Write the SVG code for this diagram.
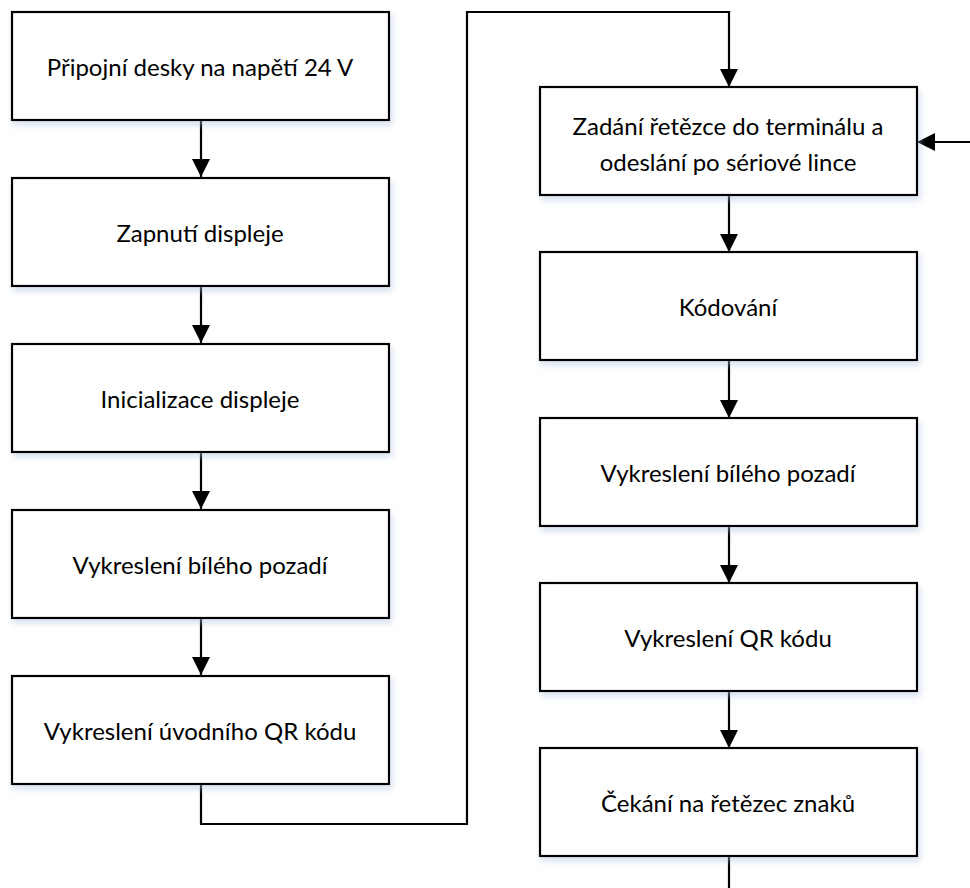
<svg xmlns="http://www.w3.org/2000/svg" width="970" height="888" viewBox="0 0 970 888">
<defs>
<marker id="ah" markerWidth="18" markerHeight="18" refX="18" refY="9" orient="auto" markerUnits="userSpaceOnUse">
<path d="M0,0 L18,9 L0,18 Z" fill="#000"/>
</marker>
<filter id="sh" x="-5%" y="-10%" width="115%" height="130%">
<feDropShadow dx="2" dy="4" stdDeviation="3" flood-color="#a9c0de" flood-opacity="0.5"/>
</filter>
</defs>
<style>
.box{fill:#fff;stroke:#000;stroke-width:2.2;filter:url(#sh)}
.t{font-family:Lato,"Liberation Sans",sans-serif;font-size:24px;fill:#000;text-anchor:middle;dominant-baseline:central}
.c{fill:none;stroke:#000;stroke-width:2.2;marker-end:url(#ah)}
.n{fill:none;stroke:#000;stroke-width:2.2}
</style>
<rect width="970" height="888" fill="#fff"/>
<g id="connectors">
<path class="c" d="M201,120 V177"/>
<path class="c" d="M201,286 V343"/>
<path class="c" d="M201,452 V509"/>
<path class="c" d="M201,618 V675"/>
<path class="c" d="M201,784 V824 H467 V12 H729 V87"/>
<path class="c" d="M729,195 V252"/>
<path class="c" d="M729,360 V418"/>
<path class="c" d="M729,526 V583"/>
<path class="c" d="M729,691 V748"/>
<path class="n" d="M729,856 V888"/>
<path class="c" d="M970,142 H917"/>
</g>
<g id="n1"><rect class="box" x="12" y="12" width="377" height="108"/><text class="t" x="200" y="66">Připojní desky na napětí 24 V</text></g>
<g id="n2"><rect class="box" x="12" y="178" width="377" height="108"/><text class="t" x="200" y="232">Zapnutí displeje</text></g>
<g id="n3"><rect class="box" x="12" y="344" width="377" height="108"/><text class="t" x="200" y="398">Inicializace displeje</text></g>
<g id="n4"><rect class="box" x="12" y="510" width="377" height="108"/><text class="t" x="200" y="564">Vykreslení bílého pozadí</text></g>
<g id="n5"><rect class="box" x="12" y="676" width="377" height="108"/><text class="t" x="200" y="730">Vykreslení úvodního QR kódu</text></g>
<g id="n6"><rect class="box" x="540" y="87" width="377" height="108"/><text class="t" x="728" y="125">Zadání řetězce do terminálu a</text><text class="t" x="728" y="161">odeslání po sériové lince</text></g>
<g id="n7"><rect class="box" x="540" y="252" width="377" height="108"/><text class="t" x="728" y="306">Kódování</text></g>
<g id="n8"><rect class="box" x="540" y="418" width="377" height="108"/><text class="t" x="728" y="472">Vykreslení bílého pozadí</text></g>
<g id="n9"><rect class="box" x="540" y="583" width="377" height="108"/><text class="t" x="728" y="637">Vykreslení QR kódu</text></g>
<g id="n10"><rect class="box" x="540" y="748" width="377" height="108"/><text class="t" x="728" y="802">Čekání na řetězec znaků</text></g>
</svg>
